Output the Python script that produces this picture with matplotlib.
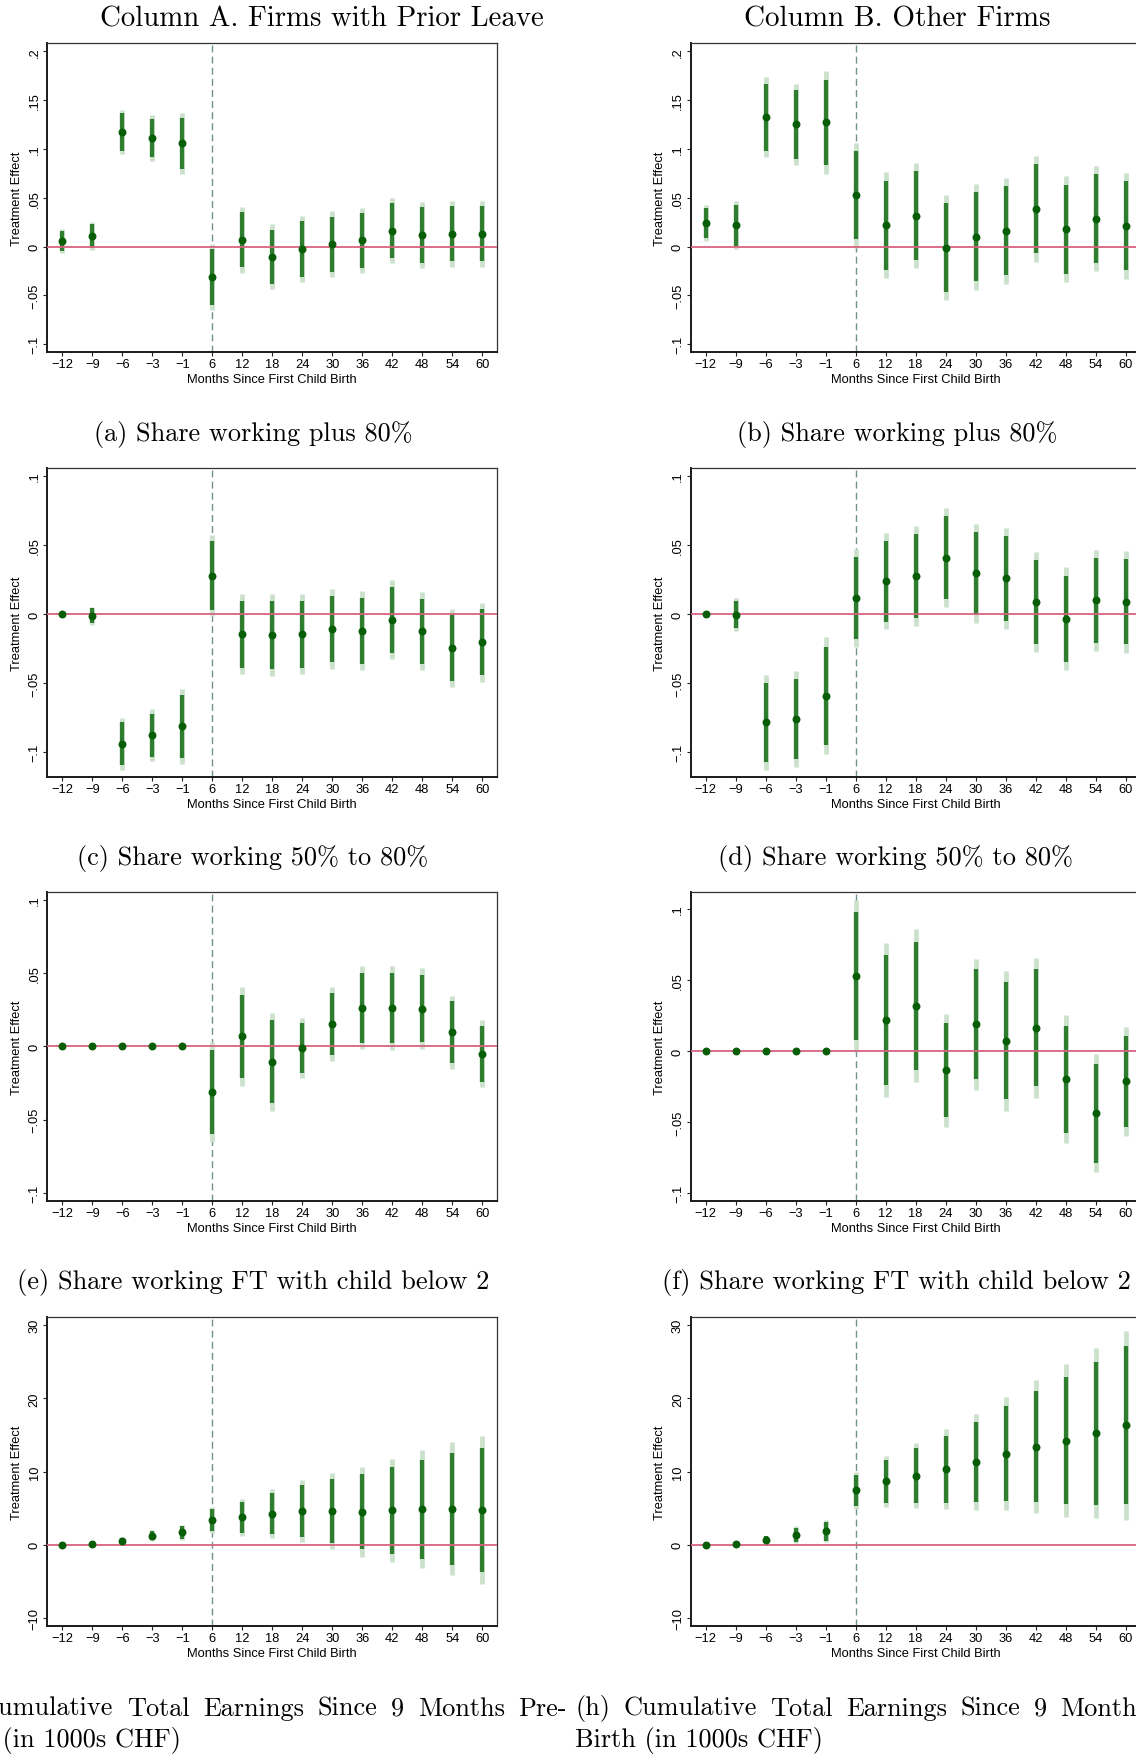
import matplotlib
matplotlib.use("Agg")
import matplotlib.pyplot as plt

W, H = 1136, 1758

# x categories (months since first child birth)
months = ['\u221212', '\u22129', '\u22126', '\u22123', '\u22121', '6', '12', '18',
          '24', '30', '36', '42', '48', '54', '60']

# point estimates and standard errors
coef_a = [0.0058, 0.0106, 0.1173, 0.111, 0.1057, -0.0314, 0.0068, -0.0106,
          -0.0024, 0.0024, 0.0065, 0.0164, 0.0119, 0.013, 0.013]
se_a = [0.0061, 0.0074, 0.0117, 0.012, 0.0161, 0.0173, 0.0171, 0.0170,
        0.0172, 0.0172, 0.0170, 0.0172, 0.0172, 0.0172, 0.0172]

coef_b = [0.0242, 0.0218, 0.1326, 0.1251, 0.1271, 0.0525, 0.0218, 0.0317,
          -0.001, 0.0099, 0.0164, 0.0385, 0.0177, 0.0286, 0.0211]
se_b = [0.0093, 0.0126, 0.0209, 0.0213, 0.0267, 0.0275, 0.0277, 0.0275,
        0.0276, 0.0277, 0.0277, 0.0277, 0.0276, 0.0275, 0.0277]

coef_c = [0.0, -0.0014, -0.094, -0.0877, -0.0814, 0.0278, -0.0147, -0.0152,
          -0.0147, -0.0109, -0.0121, -0.0041, -0.0126, -0.0246, -0.0205]
se_c = [0.0, 0.0033, 0.0095, 0.0095, 0.0137, 0.0150, 0.0148, 0.0150,
        0.0148, 0.0147, 0.0145, 0.0145, 0.0144, 0.0144, 0.0145]

coef_d = [0.0, -0.0005, -0.0785, -0.0761, -0.0592, 0.0114, 0.0237, 0.0275,
          0.0408, 0.0295, 0.0258, 0.0087, -0.0034, 0.0099, 0.0087]
se_d = [0.0, 0.0060, 0.0174, 0.0176, 0.0216, 0.0180, 0.0178, 0.0184,
        0.0182, 0.0183, 0.0186, 0.0186, 0.0189, 0.0186, 0.0187]

coef_e = [0.0, 0.0, 0.0, 0.0, 0.0, -0.0314, 0.0068, -0.0107,
          -0.0014, 0.0152, 0.0264, 0.0261, 0.0257, 0.0095, -0.005]
se_e = [0.0, 0.0, 0.0, 0.0, 0.0, 0.0174, 0.0173, 0.0172,
        0.0104, 0.0130, 0.0145, 0.0147, 0.0140, 0.0128, 0.0116]

coef_f = [0.0, 0.0, 0.0, 0.0, 0.0, 0.0527, 0.0218, 0.0319,
          -0.0134, 0.0188, 0.0073, 0.0164, -0.0199, -0.0438, -0.0213]
se_f = [0.0, 0.0, 0.0, 0.0, 0.0, 0.0273, 0.0277, 0.0275,
        0.0203, 0.0236, 0.0251, 0.0251, 0.0230, 0.0212, 0.0196]

coef_g = [0.0, 0.05, 0.55, 1.23, 1.68, 3.41, 3.77, 4.23,
          4.59, 4.59, 4.5, 4.68, 4.86, 4.91, 4.77]
se_g = [0.0, 0.03, 0.23, 0.38, 0.51, 0.90, 1.29, 1.72,
        2.16, 2.67, 3.13, 3.62, 4.12, 4.63, 5.17]

coef_h = [0.0, 0.09, 0.68, 1.36, 1.86, 7.45, 8.64, 9.45,
          10.32, 11.32, 12.45, 13.41, 14.23, 15.23, 16.32]
se_h = [0.0, 0.04, 0.28, 0.60, 0.79, 1.29, 1.76, 2.28,
        2.79, 3.34, 3.95, 4.62, 5.30, 5.94, 6.58]

yticks_share_wide = [-0.1, -0.05, 0, 0.05, 0.1, 0.15, 0.2]
ylabels_share_wide = ['\u2212.1', '\u2212.05', '0', '.05', '.1', '.15', '.2']
yticks_share = [-0.1, -0.05, 0, 0.05, 0.1]
ylabels_share = ['\u2212.1', '\u2212.05', '0', '.05', '.1']
yticks_earn = [-10, 0, 10, 20, 30]
ylabels_earn = ['\u221210', '0', '10', '20', '30']

col_titles = ['Column A. Firms with Prior Leave', 'Column B. Other Firms']
captions = ['(a) Share working plus 80%', '(b) Share working plus 80%',
            '(c) Share working 50% to 80%', '(d) Share working 50% to 80%',
            '(e) Share working FT with child below 2',
            '(f) Share working FT with child below 2']
caption_g = '(g) Cumulative Total Earnings Since 9 Months Pre-'
caption_h = '(h) Cumulative Total Earnings Since 9 Months Pre-'
caption_tail = 'Birth (in 1000s CHF)'

DARK = '#2f7d2f'
LIGHT = '#cbe1cb'
MARK = '#075e07'
ZERO = '#d9627f'
VLINE = '#6f928b'
SANS = ['Liberation Sans', 'DejaVu Sans']
SERIF = ['cmr10', 'DejaVu Serif']
FS = 9.3

panels = [
    (coef_a, se_a, (-0.108, 0.2085), yticks_share_wide, ylabels_share_wide),
    (coef_b, se_b, (-0.108, 0.2085), yticks_share_wide, ylabels_share_wide),
    (coef_c, se_c, (-0.118, 0.1056), yticks_share, ylabels_share),
    (coef_d, se_d, (-0.118, 0.1056), yticks_share, ylabels_share),
    (coef_e, se_e, (-0.1055, 0.1052), yticks_share, ylabels_share),
    (coef_f, se_f, (-0.1056, 0.112), yticks_share, ylabels_share),
    (coef_g, se_g, (-11.1, 31.1), yticks_earn, ylabels_earn),
    (coef_h, se_h, (-11.1, 31.1), yticks_earn, ylabels_earn),
]

fig = plt.figure(figsize=(W / 100, H / 100), dpi=100)
fig.patch.set_facecolor('white')

ax_left = [47.3, 690.5]
ax_top = [44, 469, 893, 1318]
ax_w, ax_h = 450, 309

x = list(range(len(months)))

for i, (coef, se, ylim, yt, ylab) in enumerate(panels):
    row, col = divmod(i, 2)
    rect = [ax_left[col] / W, 1 - (ax_top[row] + ax_h) / H, ax_w / W, ax_h / H]
    ax = fig.add_axes(rect)

    lo95 = [c - 1.96 * s for c, s in zip(coef, se)]
    hi95 = [c + 1.96 * s for c, s in zip(coef, se)]
    lo90 = [c - 1.645 * s for c, s in zip(coef, se)]
    hi90 = [c + 1.645 * s for c, s in zip(coef, se)]

    ax.axvline(5, color=VLINE, lw=1.0, ls=(0, (5, 3)), zorder=1)
    ax.vlines(x, lo95, hi95, color=LIGHT, lw=3.4, zorder=2)
    ax.vlines(x, lo90, hi90, color=DARK, lw=3.1, zorder=2.5)
    ax.axhline(0, color=ZERO, lw=1.3, zorder=3)
    ax.plot(x, coef, 'o', color=MARK, ms=4.7, mec=MARK, zorder=4)

    ax.set_xlim(-0.5, 14.5)
    ax.set_ylim(*ylim)
    ax.set_xticks(x)
    ax.set_xticklabels(months, family=SANS, fontsize=FS)
    ax.set_yticks(yt)
    ax.set_yticklabels(ylab, family=SANS, fontsize=FS, rotation=90, va='center')
    ax.tick_params(direction='out', length=2.9, width=0.8, color='#222222')
    ax.tick_params(axis='x', pad=1.5)
    ax.tick_params(axis='y', pad=1.8)

    ax.set_xlabel('Months Since First Child Birth', family=SANS, fontsize=FS,
                  va='center')
    ax.xaxis.set_label_coords(0.5, -0.087)
    ax.set_ylabel('Treatment Effect', family=SANS, fontsize=FS, va='center')
    ax.yaxis.set_label_coords(-0.067, 0.5)

    for side in ['left', 'bottom']:
        ax.spines[side].set_linewidth(1.4)
        ax.spines[side].set_color('#1a1a1a')
    for side in ['top', 'right']:
        ax.spines[side].set_linewidth(0.9)
        ax.spines[side].set_color('#333333')

renderer = fig.canvas.get_renderer()


def put(txt, xc, yc, size, ha='center'):
    return fig.text(xc / W, 1 - yc / H, txt, family=SERIF, fontsize=size,
                    ha=ha, va='center')


def put_fit(txt, xc, yc, width, ha='center'):
    # scale the font so the text spans the width measured on the reference
    t = put(txt, xc, yc, 10, ha)
    w = t.get_window_extent(renderer).width
    t.set_fontsize(10 * width / w)
    return t


put_fit(col_titles[0], 322, 19, 445)
put_fit(col_titles[1], 897, 19, 307)

cap_pos = [(253, 435, 319), (897, 435, 321), (253, 859, 351), (896, 859, 355),
           (253, 1283, 473), (896, 1283, 470)]
for txt, (xc, yc, wd) in zip(captions, cap_pos):
    put_fit(txt, xc, yc, wd)


def justify(line, x0, x1, yc, size):
    # spread the words so the line fills x0..x1, like a justified LaTeX caption
    words = line.split()
    texts = [put(w, 0, yc, size, ha='left') for w in words]
    widths = [t.get_window_extent(renderer).width for t in texts]
    gap = (x1 - x0 - sum(widths)) / (len(words) - 1)
    xp = x0
    for t, w in zip(texts, widths):
        t.set_x(xp / W)
        xp += w + gap


tail = put_fit(caption_tail, 575, 1741, 248, ha='left')
size_gh = tail.get_fontsize()
put(caption_tail, -67, 1741, size_gh, ha='left')
justify(caption_g, -67, 567, 1709, size_gh)
justify(caption_h, 575, 1209, 1709, size_gh)

fig.savefig('out.png', dpi=100)
